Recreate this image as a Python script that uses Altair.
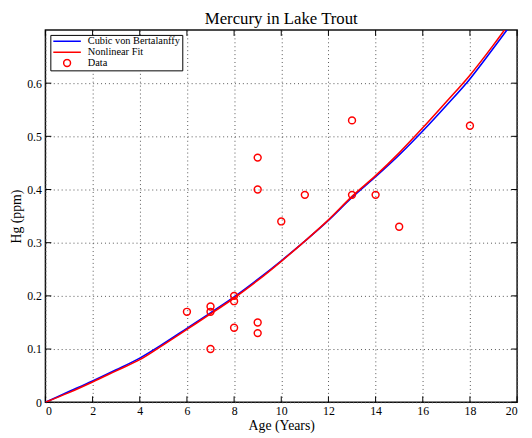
import altair as alt
import pandas as pd

# ---- data ----
ages = [6, 7, 7, 7, 8, 8, 8, 9, 9, 9, 9, 10, 11, 13, 13, 14, 15, 18]
hg = [0.17, 0.18, 0.17, 0.10, 0.20, 0.19, 0.14, 0.46, 0.40, 0.15, 0.13,
      0.34, 0.39, 0.53, 0.39, 0.39, 0.33, 0.52]

fit_age = list(range(0, 21))
cubic_vb = [0.000, 0.020, 0.040, 0.061, 0.083, 0.110, 0.139, 0.168, 0.198, 0.231, 0.266,
            0.303, 0.342, 0.385, 0.424, 0.465, 0.510, 0.558, 0.608, 0.666, 0.726]
nonlinear = [0.000, 0.018, 0.038, 0.059, 0.080, 0.108, 0.137, 0.166, 0.196, 0.229, 0.265,
             0.303, 0.343, 0.387, 0.426, 0.469, 0.516, 0.565, 0.615, 0.672, 0.733]

series_names = ["Cubic von Bertalanffy", "Nonlinear Fit", "Data"]
series_colors = ["#0000ff", "#ff0000", "#ff0000"]

x_ticks = [0, 2, 4, 6, 8, 10, 12, 14, 16, 18, 20]
y_ticks = [0, 0.1, 0.2, 0.3, 0.4, 0.5, 0.6]

# ---- tables ----
lines_df = pd.DataFrame({
    "age": fit_age + fit_age,
    "hg": cubic_vb + nonlinear,
    "series": [series_names[0]] * len(fit_age) + [series_names[1]] * len(fit_age),
})
pts_df = pd.DataFrame({"age": ages, "hg": hg, "series": series_names[2]})
xt_df = pd.DataFrame({"t": x_ticks})
yt_df = pd.DataFrame({"t": y_ticks})

FONT = "Liberation Serif"
LINE_PATH = "M-1,0H1"
CIRC_PATH = "M0.25,0A0.25,0.25,0,1,1,-0.25,0A0.25,0.25,0,1,1,0.25,0Z"

xscale = alt.Scale(domain=[0, 20], nice=False)
yscale = alt.Scale(domain=[0, 0.7], nice=False)
color_scale = alt.Scale(domain=series_names, range=series_colors)
shape_scale = alt.Scale(domain=series_names, range=[LINE_PATH, LINE_PATH, CIRC_PATH])

legend = alt.Legend(
    title=None, orient="top-left", offset=5, strokeColor="black", fillColor="white",
    padding=2, labelFont=FONT, labelFontSize=10.5, labelColor="black", clipHeight=9,
    rowPadding=0, symbolSize=784, symbolStrokeWidth=1.5, labelOffset=6, labelLimit=300,
    symbolFillColor="transparent",
)

xaxis = alt.Axis(title="Age (Years)", values=x_ticks, ticks=False, domain=False,
                 labelPadding=3, titlePadding=3, gridDash=[1, 3], gridColor="#555",
                 format="d")
yaxis = alt.Axis(title="Hg (ppm)", values=y_ticks, ticks=False, domain=False,
                 labelPadding=4, titlePadding=3, gridDash=[1, 3], gridColor="#555",
                 labelExpr="datum.value == 0 ? '0' : format(datum.value, '.1f')")

base_lines = alt.Chart(lines_df).mark_line(strokeWidth=1.6, clip=True, interpolate="monotone").encode(
    x=alt.X("age:Q", scale=xscale, axis=xaxis),
    y=alt.Y("hg:Q", scale=yscale, axis=yaxis),
    color=alt.Color("series:N", scale=color_scale, legend=legend, sort=series_names),
    detail="series:N",
)

points = alt.Chart(pts_df).mark_point(filled=False, size=784, strokeWidth=1.5, opacity=1).encode(
    x=alt.X("age:Q", scale=xscale),
    y=alt.Y("hg:Q", scale=yscale),
    color=alt.Color("series:N", scale=color_scale, legend=legend, sort=series_names),
    shape=alt.Shape("series:N", scale=shape_scale, legend=legend, sort=series_names),
)

TL = 6  # inward tick length in px, converted to data units below
dx = 20 / 479 * TL
dy = 0.7 / 378 * TL
bottom_ticks = alt.Chart(xt_df).mark_rule(color="black", strokeWidth=1).encode(
    x="t:Q", y=alt.datum(0), y2=alt.datum(dy))
top_ticks = alt.Chart(xt_df).mark_rule(color="black", strokeWidth=1).encode(
    x="t:Q", y=alt.datum(0.7), y2=alt.datum(0.7 - dy))
left_ticks = alt.Chart(yt_df).mark_rule(color="black", strokeWidth=1).encode(
    y="t:Q", x=alt.datum(0), x2=alt.datum(dx))
right_ticks = alt.Chart(yt_df).mark_rule(color="black", strokeWidth=1).encode(
    y="t:Q", x=alt.datum(20), x2=alt.datum(20 - dx))

chart = alt.layer(
    bottom_ticks, top_ticks, left_ticks, right_ticks, base_lines, points
).properties(
    width=479, height=378,
    title=alt.TitleParams("Mercury in Lake Trout", font=FONT, fontSize=17,
                          fontWeight="normal", color="black", anchor="middle",
                          frame="group", baseline="bottom", offset=2, dy=17),
    autosize=alt.AutoSizeParams(type="none"),
    padding={"left": 38, "top": 19, "right": 7, "bottom": 33},
    background="white",
).configure_axis(
    labelFont=FONT, labelFontSize=12, labelColor="black",
    titleFont=FONT, titleFontSize=14, titleColor="black", titleFontWeight="normal",
    grid=True,
).configure_view(
    stroke="#111", strokeWidth=1.5,
)

chart.save("out.html", embed_options={"renderer": "svg", "actions": False})
